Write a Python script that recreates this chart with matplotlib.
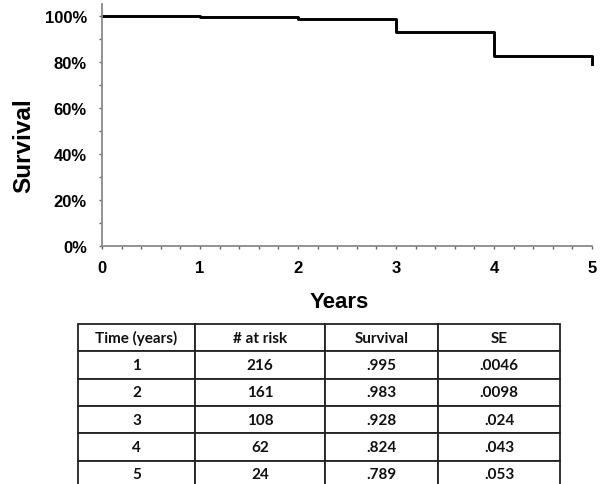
import matplotlib.pyplot as plt
from matplotlib.ticker import MultipleLocator, PercentFormatter

# Donnees
annees = [0, 1, 2, 3, 4, 5]
survie = [1.0, 0.995, 0.983, 0.928, 0.824, 0.789]

entetes = ["Time (years)", "# at risk", "Survival", "SE"]
temps = ["1", "2", "3", "4", "5"]
a_risque = ["216", "161", "108", "62", "24"]
survie_txt = [".995", ".983", ".928", ".824", ".789"]
se_txt = [".0046", ".0098", ".024", ".043", ".053"]

fig = plt.figure(figsize=(6.02, 4.85), dpi=100)

# Courbe de survie
ax = fig.add_axes([0.1694, 0.4907, 0.814, 0.499])
ax.step(annees, survie, where="post", color="black", lw=2.1, clip_on=False)
ax.set_xlim(0, 5)
ax.set_ylim(0, 1.05)
ax.xaxis.set_major_locator(MultipleLocator(1))
ax.xaxis.set_minor_locator(MultipleLocator(0.2))
ax.yaxis.set_major_locator(MultipleLocator(0.2))
ax.yaxis.set_minor_locator(MultipleLocator(0.1))
ax.yaxis.set_major_formatter(PercentFormatter(1.0, decimals=0))
for s in ["top", "right"]:
    ax.spines[s].set_visible(False)
for s in ["left", "bottom"]:
    ax.spines[s].set_color("#8a8a8a")
    ax.spines[s].set_linewidth(1.3)
ax.tick_params(which="both", direction="out", color="#666666", width=1, length=2.3)
ax.tick_params(axis="x", which="major", pad=7.5)
ax.tick_params(axis="y", which="major", pad=8.5)
for lab in ax.get_xticklabels() + ax.get_yticklabels():
    lab.set_fontfamily("Liberation Sans")
    lab.set_fontweight("bold")
    lab.set_fontsize(12)
ax.set_xlabel("Years", fontfamily="Liberation Sans", fontweight="bold", fontsize=16, va="center")
ax.set_ylabel("Survival", fontfamily="Liberation Sans", fontweight="bold", fontsize=17.5, va="center")
ax.xaxis.set_label_coords(0.484, -0.231)
ax.yaxis.set_label_coords(-0.159, 0.42)

# Tableau
tab_ax = fig.add_axes([0, 0, 1, 1])
tab_ax.axis("off")
lignes = [list(r) for r in zip(temps, a_risque, survie_txt, se_txt)]
larg = [117, 130, 113, 122]
tot = sum(larg)
tab = tab_ax.table(cellText=lignes, colLabels=entetes, cellLoc="center",
                   colWidths=[w / tot for w in larg],
                   bbox=[0.1296, -0.0082, 0.8007, 0.338])
tab.auto_set_font_size(False)
for (r, c), cell in tab.get_celld().items():
    cell.set_edgecolor("#222222")
    cell.set_linewidth(1.3)
    cell.get_text().set_fontfamily("Lato")
    cell.get_text().set_fontweight("bold")
    cell.get_text().set_fontsize(11)
    cell.get_text().set_color("#111111")

plt.savefig("out.png", dpi=100)
